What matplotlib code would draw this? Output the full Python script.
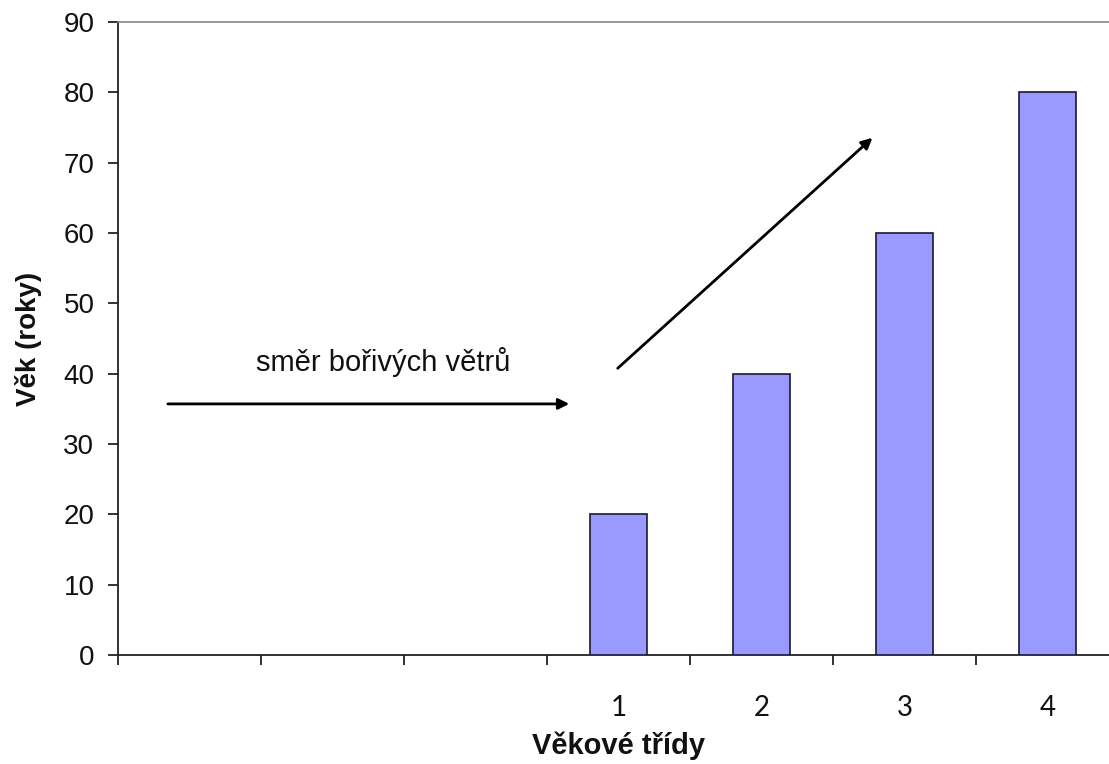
import matplotlib
matplotlib.use("Agg")
import matplotlib.pyplot as plt
import numpy as np

# Data
categories = ["", "", "", "1", "2", "3", "4"]
values = [np.nan, np.nan, np.nan, 20, 40, 60, 80]
y_ticks = [0, 10, 20, 30, 40, 50, 60, 70, 80, 90]
x_label = "Věkové třídy"
y_label = "Věk (roky)"
note = "směr bořivých větrů"

W, H = 1109, 764
fig = plt.figure(figsize=(W / 100, H / 100), dpi=100)
left, right, top, bottom = 118, 1119, 22, 655
ax = fig.add_axes([left / W, 1 - bottom / H, (right - left) / W, (bottom - top) / H])

x = np.arange(len(categories))
vals = np.array(values, dtype=float)
mask = ~np.isnan(vals)
ax.bar(x[mask], vals[mask], width=0.40, color="#9999FF", edgecolor="#1a1a33", linewidth=1.2, zorder=3)

ax.set_xlim(-0.5, len(categories) - 0.5)
ax.set_ylim(0, 90)
ax.set_yticks(y_ticks)
ax.set_yticklabels([str(v) for v in y_ticks], fontsize=20, family="Liberation Sans", color="#111111")

# x ticks at category boundaries, labels at category centers
ax.set_xticks(np.arange(len(categories)) - 0.5)
ax.set_xticklabels([])
ax.set_xticks(x, minor=True)
ax.set_xticklabels(categories, minor=True, fontsize=20, family="Lato", color="#111111")
ax.tick_params(axis="x", which="minor", length=0, pad=29)
ax.tick_params(axis="x", which="major", length=7, width=1.3, direction="out", color="#222222")
ax.tick_params(axis="y", length=7, width=1.3, direction="out", color="#222222", pad=10)

for s in ["left", "bottom"]:
    ax.spines[s].set_linewidth(1.3)
    ax.spines[s].set_color("#222222")
ax.spines["right"].set_visible(False)
ax.spines["top"].set_color("#888888")
ax.spines["top"].set_linewidth(1.2)

ax.set_xlabel(x_label, fontsize=21, fontweight="bold", family="Liberation Sans", color="#111111")
ax.xaxis.set_label_coords(0.5, -(746 - bottom) / (bottom - top))
ax.xaxis.label.set_va("center")
ax.set_ylabel(y_label, fontsize=20, fontweight="bold", family="Liberation Sans", color="#111111")
ax.yaxis.set_label_coords(-(left - 29) / (right - left), 0.5)
ax.yaxis.label.set_va("center")

ax.annotate("", xy=(2.675, 35.7), xytext=(-0.171, 35.7),
            arrowprops=dict(arrowstyle="-|>", color="black", lw=2, mutation_scale=16))
ax.annotate("", xy=(4.79, 73.8), xytext=(2.98, 40.5),
            arrowprops=dict(arrowstyle="-|>", color="black", lw=2, mutation_scale=16))
ax.text(1.353, 41.7, note, fontsize=21, family="Liberation Sans", ha="center", va="center", color="#111111")

fig.savefig("out.png", dpi=100)
